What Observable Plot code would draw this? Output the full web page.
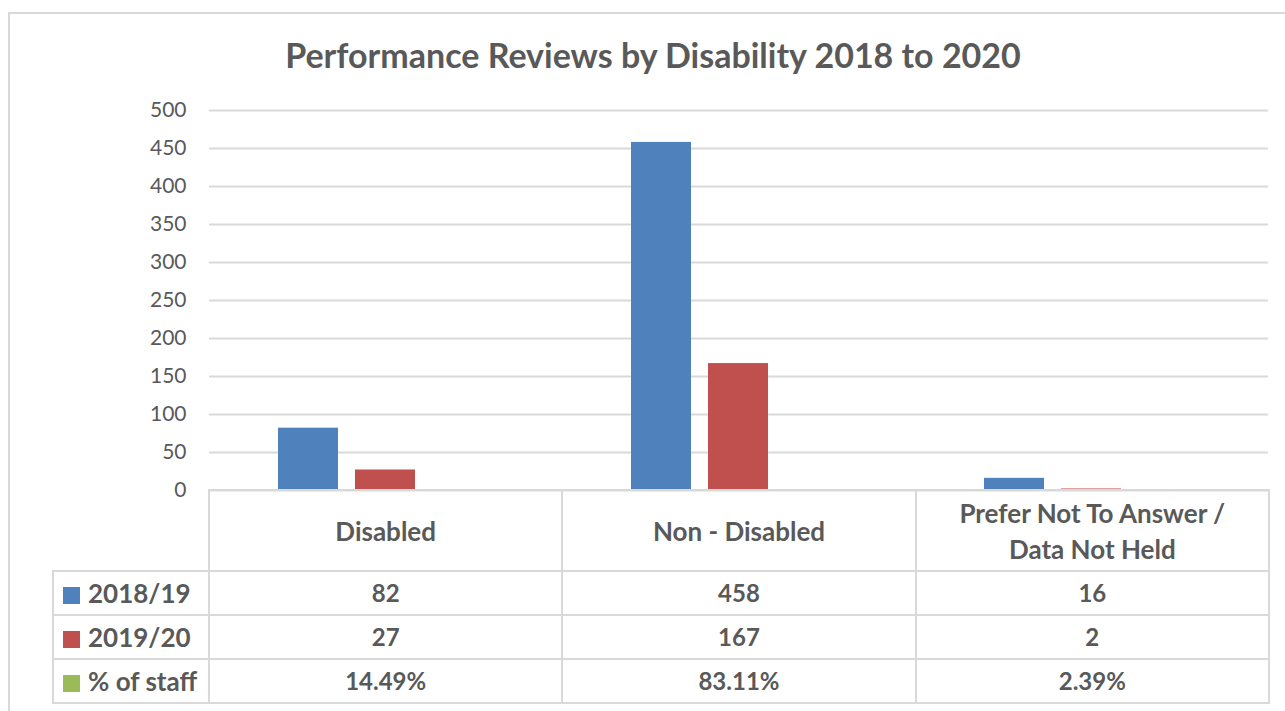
<!DOCTYPE html>
<html>
<head>
<meta charset="utf-8">
<script src="https://cdn.jsdelivr.net/npm/d3@7"></script>
<script src="https://cdn.jsdelivr.net/npm/@observablehq/plot@0.6"></script>
<style>
  html, body { margin: 0; padding: 0; background: #fff; }
  body { width: 1285px; height: 711px; position: relative; overflow: hidden; font-family: "Lato", "Open Sans", sans-serif; }
  #frame { position: absolute; left: 8px; top: 12px; width: 1300px; height: 720px; border-left: 2px solid #d9d9d9; border-top: 2px solid #d9d9d9; box-sizing: border-box; }
  #title { position: absolute; left: 0; width: 1306px; top: 34px; text-align: center; font-weight: 700; font-size: 34px; color: #595959; white-space: nowrap; }
  #chart { position: absolute; left: 0; top: 80px; }
  #chart svg { overflow: visible; }
  table { position: absolute; left: 52px; top: 489px; border-collapse: collapse; table-layout: fixed; color: #595959; font-weight: 700; font-size: 26px; }
  td { border: 2px solid #d9d9d9; text-align: center; padding: 0; line-height: 36px; }
  td.blank { border-left: none; border-top: none; }
  td.lab { text-align: left; padding-left: 9px; white-space: nowrap; }
  td.num { font-size: 24px; }
  .sw { display: inline-block; width: 17px; height: 17px; margin-right: 8px; vertical-align: -1px; }
</style>
</head>
<body>
<div id="frame"></div>
<div id="title">Performance Reviews by Disability 2018 to 2020</div>
<div id="chart"></div>
<table id="tbl"></table>
<script>
const categories = ["Disabled", "Non - Disabled", "Prefer Not To Answer / Data Not Held"];
const categoryLines = [["Disabled"], ["Non - Disabled"], ["Prefer Not To Answer /", "Data Not Held"]];
const series = ["2018/19", "2019/20", "% of staff"];
const colors = ["#4F81BD", "#C0504D", "#9BBB59"];
const reviews2018 = [82, 458, 16];
const reviews2019 = [27, 167, 2];
const pctStaff = [0.1449, 0.8311, 0.0239];
const yTicks = [0, 50, 100, 150, 200, 250, 300, 350, 400, 450, 500];

const seriesValues = [reviews2018, reviews2019, pctStaff];
const data = [];
categories.forEach((c, i) => {
  series.forEach((s, j) => data.push({category: c, series: s, value: seriesValues[j][i]}));
});

const chart = Plot.plot({
  width: 1285,
  height: 422,
  marginTop: 30,
  marginBottom: 12,
  marginLeft: 208,
  marginRight: 17,
  style: {fontFamily: "Lato, 'Open Sans', sans-serif", fontSize: "21px", color: "#595959", background: "transparent"},
  fx: {domain: categories, padding: 0, axis: null, label: null},
  x: {domain: series, paddingInner: 0.218, paddingOuter: 0.872, axis: null, label: null},
  y: {domain: [0, 500], axis: null},
  color: {domain: series, range: colors},
  marks: [
    Plot.gridY(yTicks, {stroke: "#d9d9d9", strokeOpacity: 1, strokeWidth: 2}),
    Plot.axisY(yTicks, {tickSize: 0, tickPadding: 23, fontSize: 21, fill: "#595959", label: null}),
    Plot.barY(data, {fx: "category", x: "series", y: "value", fill: "series"})
  ]
});
document.getElementById("chart").appendChild(chart);

// Data table below the chart
const tbl = document.getElementById("tbl");
const colW = (1285 - 208 - 17) / 3;
const cg = document.createElement("colgroup");
[156].concat(categories.map(() => colW)).forEach(w => {
  const col = document.createElement("col");
  col.style.width = w + "px";
  cg.appendChild(col);
});
tbl.appendChild(cg);
const hr = document.createElement("tr");
hr.style.height = "81px";
const blank = document.createElement("td");
blank.className = "blank";
hr.appendChild(blank);
categoryLines.forEach(lines => {
  const td = document.createElement("td");
  td.innerHTML = lines.join("<br>");
  hr.appendChild(td);
});
tbl.appendChild(hr);
const fmt = [v => String(v), v => String(v), v => (v * 100).toFixed(2) + "%"];
series.forEach((s, j) => {
  const tr = document.createElement("tr");
  tr.style.height = "44px";
  const lab = document.createElement("td");
  lab.className = "lab";
  lab.innerHTML = `<span class="sw" style="background:${colors[j]}"></span>${s}`;
  tr.appendChild(lab);
  seriesValues[j].forEach(v => {
    const td = document.createElement("td");
    td.className = "num";
    td.textContent = fmt[j](v);
    tr.appendChild(td);
  });
  tbl.appendChild(tr);
});
</script>
</body>
</html>
